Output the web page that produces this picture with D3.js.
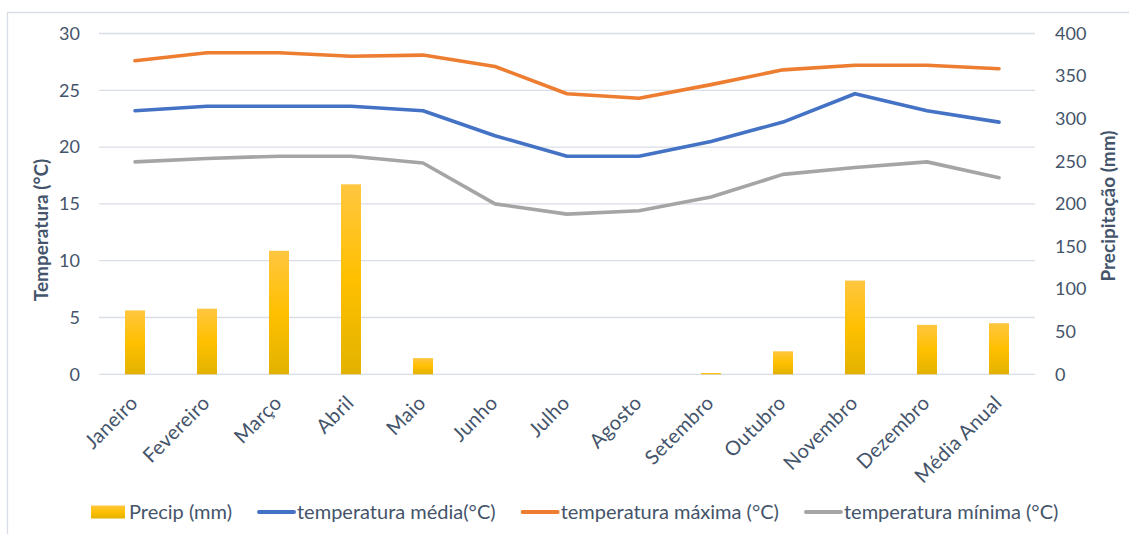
<!DOCTYPE html>
<html><head><meta charset="utf-8">
<script src="https://cdn.jsdelivr.net/npm/d3@7"></script>
<style>
html,body{margin:0;padding:0;background:#fff;}
svg{display:block;font-family:Lato,"Open Sans",sans-serif;}
</style></head>
<body>
<svg id="chart" width="1129" height="534"></svg>
<script>
const categories = ["Janeiro","Fevereiro","Março","Abril","Maio","Junho","Julho","Agosto","Setembro","Outubro","Novembro","Dezembro","Média Anual"];
const precip = [75, 77, 145, 223, 19, 0, 0, 0, 1.5, 27, 110, 58, 60];
const tempMedia = [23.2, 23.6, 23.6, 23.6, 23.2, 21.0, 19.2, 19.2, 20.5, 22.2, 24.7, 23.2, 22.2];
const tempMax = [27.6, 28.3, 28.3, 28.0, 28.1, 27.1, 24.7, 24.3, 25.5, 26.8, 27.2, 27.2, 26.9];
const tempMin = [18.7, 19.0, 19.2, 19.2, 18.6, 15.0, 14.1, 14.4, 15.6, 17.6, 18.2, 18.7, 17.3];
const leftTicks = [0, 5, 10, 15, 20, 25, 30];
const rightTicks = [0, 50, 100, 150, 200, 250, 300, 350, 400];
const seriesNames = ["Precip (mm)", "temperatura média(°C)", "temperatura máxima (°C)", "temperatura mínima (°C)"];

const textColor = "#44546A";
const gridColor = "#d9dee6";
const colors = {media: "#4472C4", max: "#ED7D31", min: "#A5A5A5"};

const svg = d3.select("#chart");
const W = 1129, H = 534;
const plot = {left: 99, right: 1035, top: 33.5, bottom: 374.3};

// chart border
svg.append("path")
  .attr("d", `M7.5,${H+2} L7.5,12.5 L${W+2},12.5`)
  .attr("fill", "none").attr("stroke", "#d9dee6").attr("stroke-width", 1.3);

const x = d3.scaleBand().domain(categories).range([plot.left, plot.right]).paddingInner(0).paddingOuter(0);
const yL = d3.scaleLinear().domain([0, 30]).range([plot.bottom, plot.top]);
const yR = d3.scaleLinear().domain([0, 400]).range([plot.bottom, plot.top]);

// gradient for bars
const defs = svg.append("defs");
const grad = defs.append("linearGradient").attr("id", "barGrad").attr("x1", 0).attr("y1", 0).attr("x2", 0).attr("y2", 1);
grad.append("stop").attr("offset", "0%").attr("stop-color", "#FFC640");
grad.append("stop").attr("offset", "50%").attr("stop-color", "#FFC000");
grad.append("stop").attr("offset", "100%").attr("stop-color", "#E2B200");

// gridlines
svg.append("g").selectAll("line").data(leftTicks).join("line")
  .attr("x1", plot.left).attr("x2", plot.right)
  .attr("y1", d => yL(d)).attr("y2", d => yL(d))
  .attr("stroke", gridColor).attr("stroke-width", 1.3);

// left axis
const gL = svg.append("g").attr("transform", `translate(${plot.left},0)`)
  .call(d3.axisLeft(yL).tickValues(leftTicks).tickSize(0).tickPadding(19));
gL.select(".domain").remove();
gL.selectAll("text").attr("fill", textColor).style("font-size", "18px").style("font-family", "Lato, sans-serif");

// right axis
const gR = svg.append("g").attr("transform", `translate(${plot.right},0)`)
  .call(d3.axisRight(yR).tickValues(rightTicks).tickSize(0).tickPadding(20));
gR.select(".domain").remove();
gR.selectAll("text").attr("fill", textColor).style("font-size", "18px").style("font-family", "Lato, sans-serif");

// bars
const barW = 20;
svg.append("g").selectAll("rect").data(categories).join("rect")
  .attr("x", d => x(d) + x.bandwidth()/2 - barW/2)
  .attr("width", barW)
  .attr("y", (d,i) => yR(precip[i]))
  .attr("height", (d,i) => yR(0) - yR(precip[i]))
  .attr("fill", "url(#barGrad)");

// lines
const line = d3.line().x((d,i) => x(categories[i]) + x.bandwidth()/2).y(d => yL(d));
[[tempMin, colors.min], [tempMedia, colors.media], [tempMax, colors.max]].forEach(([data, c]) => {
  svg.append("path").datum(data).attr("d", line)
    .attr("fill", "none").attr("stroke", c).attr("stroke-width", 3.6)
    .attr("stroke-linejoin", "round").attr("stroke-linecap", "round");
});

// category labels
svg.append("g").selectAll("text").data(categories).join("text")
  .attr("transform", d => `translate(${x(d) + x.bandwidth()/2 - 1},${plot.bottom + 25}) rotate(-45)`)
  .attr("text-anchor", "end").attr("dy", "0.35em")
  .attr("fill", textColor).style("font-size", "20px").style("letter-spacing", "0.3px")
  .text(d => d);

// axis titles
svg.append("text")
  .attr("transform", `translate(48,230) rotate(-90)`)
  .attr("text-anchor", "middle")
  .attr("fill", textColor).style("font-size", "19px").style("font-weight", "bold")
  .text("Temperatura (°C)");
svg.append("text")
  .attr("transform", `translate(1115,206) rotate(-90)`)
  .attr("text-anchor", "middle")
  .attr("fill", textColor).style("font-size", "19px").style("font-weight", "bold")
  .text("Precipitação (mm)");

// legend
const legY = 512;
const leg = svg.append("g");
let cx = 91;
seriesNames.forEach((name, i) => {
  const g = leg.append("g");
  if (i === 0) {
    g.append("rect").attr("x", cx).attr("y", legY - 6.5).attr("width", 34).attr("height", 13).attr("fill", "url(#barGrad)");
    cx += 38;
  } else {
    const c = [null, colors.media, colors.max, colors.min][i];
    g.append("line").attr("x1", cx + 2).attr("x2", cx + 37).attr("y1", legY).attr("y2", legY)
      .attr("stroke", c).attr("stroke-width", 4).attr("stroke-linecap", "round");
    cx += 40;
  }
  const t = g.append("text").attr("x", cx).attr("y", legY).attr("dy", "0.35em")
    .attr("fill", textColor).style("font-size", "20px").text(name);
  cx += t.node().getComputedTextLength() + 25;
});
</script>
</body></html>
